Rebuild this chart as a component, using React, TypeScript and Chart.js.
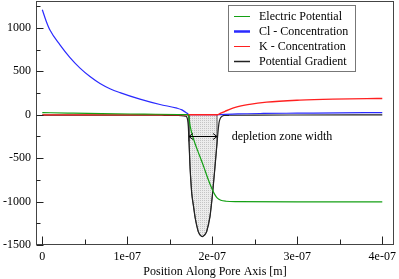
import React, { useEffect, useRef } from "react";
import { Chart, registerables } from "chart.js";

Chart.register(...registerables);

// ---- data (positions in metres) ----
const potentialX = [0, 0.3e-7, 0.7e-7, 1.2e-7, 1.6e-7, 1.7e-7, 1.72e-7, 1.74e-7, 1.77e-7, 1.8e-7, 1.85e-7, 1.9e-7, 1.95e-7, 2.0e-7, 2.03e-7, 2.06e-7, 2.1e-7, 2.16e-7, 2.3e-7, 3.0e-7, 4.0e-7];
const potentialY = [25, 19, 12, 7, 3, 1, -5, -130, -250, -340, -470, -600, -740, -860, -920, -960, -985, -996, -1000, -1003, -1003];

const clX = [0, 0.045e-7, 0.09e-7, 0.208e-7, 0.326e-7, 0.444e-7, 0.561e-7, 0.679e-7, 0.796e-7, 0.914e-7, 1.149e-7, 1.385e-7, 1.585e-7, 1.643e-7, 1.7e-7, 1.726e-7, 2.056e-7, 2.1e-7, 2.3e-7, 2.6e-7, 3.0e-7, 3.5e-7, 4.0e-7];
const clY = [1210, 1080, 975, 805, 658, 537, 440, 360, 300, 255, 180, 118, 76, 56, 20, 0, 0, 2, 10, 15, 18, 22, 25];

const kX = [0, 1.0e-7, 1.726e-7, 2.056e-7, 2.1e-7, 2.15e-7, 2.27e-7, 2.44e-7, 2.64e-7, 3.03e-7, 3.42e-7, 3.82e-7, 4.0e-7];
const kY = [-2, -1, 0, 0, 18, 40, 85, 120, 145, 168, 180, 186, 187];

const gradX = [0, 0.5e-7, 1.0e-7, 1.4e-7, 1.6e-7, 1.66e-7, 1.69e-7, 1.7e-7, 1.71e-7, 1.718e-7, 1.728e-7, 1.738e-7, 1.758e-7, 1.78e-7, 1.8e-7, 1.835e-7, 1.86e-7, 1.882e-7, 1.905e-7, 1.934e-7, 1.973e-7, 2.0e-7, 2.032e-7, 2.045e-7, 2.059e-7, 2.079e-7, 2.095e-7, 2.111e-7, 2.14e-7, 2.2e-7, 2.5e-7, 3.0e-7, 4.0e-7];
const gradY = [-4, -4, -5, -6, -8, -12, -18, -25, -60, -136, -350, -597, -903, -1060, -1195, -1346, -1390, -1403, -1390, -1346, -1173, -942, -597, -450, -289, -93, -40, -21, -8, -6, -4, -3, -2];

const seriesLabels = ["Electric Potential", "Cl - Concentration", "K - Concentration", "Potential Gradient"];

const zoneBounds = [1.726e-7, 2.056e-7];
const arrowValue = -245;
const zoneLabel = "depletion zone width";
const zoneLabelX = 2.228e-7;

const xTickValues = [0, 1e-7, 2e-7, 3e-7, 4e-7];
const xTickLabels = ["0", "1e-07", "2e-07", "3e-07", "4e-07"];
const xMinorTicks = [0.5e-7, 1.5e-7, 2.5e-7, 3.5e-7];
const yTickValues = [-1500, -1000, -500, 0, 500, 1000];
const yTickLabels = ["-1500", "-1000", "-500", "0", "500", "1000"];
const yMinorTicks = [-1250, -750, -250, 250, 750, 1250];
const xAxisTitle = "Position Along Pore Axis [m]";

const FONT = '"Liberation Serif", "Times New Roman", serif';

function pts(xs: number[], ys: number[]) {
  return xs.map((x, i) => ({ x, y: ys[i] }));
}

function interp(xs: number[], ys: number[], x: number) {
  for (let i = 0; i < xs.length - 1; i++) {
    if (x >= xs[i] && x <= xs[i + 1]) {
      const t = (x - xs[i]) / (xs[i + 1] - xs[i]);
      return ys[i] + t * (ys[i + 1] - ys[i]);
    }
  }
  return 0;
}

function zoneFill() {
  const [a, b] = zoneBounds;
  const inner = pts(gradX, gradY).filter((p) => p.x > a && p.x < b);
  return [
    { x: a, y: 0 },
    { x: a, y: interp(gradX, gradY, a) },
    ...inner,
    { x: b, y: interp(gradX, gradY, b) },
    { x: b, y: 0 },
  ];
}

function makePattern(): CanvasPattern | string {
  const c = document.createElement("canvas");
  c.width = 2;
  c.height = 2;
  const g = c.getContext("2d");
  if (!g) return "#dddddd";
  g.fillStyle = "#ececec";
  g.fillRect(0, 0, 2, 2);
  g.fillStyle = "#c4c4c4";
  g.fillRect(0, 0, 1, 1);
  const p = g.createPattern(c, "repeat");
  return p || "#dddddd";
}

const framePlugin = {
  id: "frameTicks",
  afterDatasetsDraw(chart: any) {
    const { ctx, chartArea, scales } = chart;
    const { left, right, top, bottom } = chartArea;
    const xs = scales.x;
    const ys = scales.y;
    ctx.save();
    // annotation: arrow + label
    const ay = Math.round(ys.getPixelForValue(arrowValue)) + 0.5;
    const ax1 = xs.getPixelForValue(zoneBounds[0]);
    const ax2 = xs.getPixelForValue(zoneBounds[1]);
    ctx.strokeStyle = "#000";
    ctx.lineWidth = 1;
    ctx.beginPath();
    ctx.moveTo(ax1, ay);
    ctx.lineTo(ax2, ay);
    ctx.moveTo(ax1 + 4, ay - 3);
    ctx.lineTo(ax1, ay);
    ctx.lineTo(ax1 + 4, ay + 3);
    ctx.moveTo(ax2 - 4, ay - 3);
    ctx.lineTo(ax2, ay);
    ctx.lineTo(ax2 - 4, ay + 3);
    ctx.stroke();
    ctx.fillStyle = "#000";
    ctx.font = "12px " + FONT;
    ctx.textBaseline = "middle";
    ctx.textAlign = "left";
    ctx.fillText(zoneLabel, xs.getPixelForValue(zoneLabelX), ay + 0.5);

    // frame
    ctx.strokeStyle = "#444";
    ctx.lineWidth = 1;
    ctx.strokeRect(left + 0.5, top + 0.5, right - left - 1, bottom - top - 1);
    // ticks (inward)
    ctx.strokeStyle = "#222";
    ctx.beginPath();
    const by = bottom - 0.5;
    xTickValues.forEach((v) => {
      const px = Math.round(xs.getPixelForValue(v)) + 0.5;
      ctx.moveTo(px, by);
      ctx.lineTo(px, by - 8);
    });
    xMinorTicks.forEach((v) => {
      const px = Math.round(xs.getPixelForValue(v)) + 0.5;
      ctx.moveTo(px, by);
      ctx.lineTo(px, by - 5);
    });
    const lx = left + 0.5;
    yTickValues.forEach((v) => {
      const py = Math.round(ys.getPixelForValue(v)) + 0.5;
      ctx.moveTo(lx, py);
      ctx.lineTo(lx + 7, py);
    });
    yMinorTicks.forEach((v) => {
      const py = Math.round(ys.getPixelForValue(v)) + 0.5;
      ctx.moveTo(lx, py);
      ctx.lineTo(lx + 4, py);
    });
    ctx.stroke();
    ctx.restore();
  },
  afterDraw(chart: any) {
    const { ctx } = chart;
    ctx.save();
    const x0 = 228.5, y0 = 5.5, w = 127, h = 66;
    ctx.fillStyle = "#fff";
    ctx.fillRect(x0, y0, w, h);
    ctx.strokeStyle = "#777";
    ctx.lineWidth = 1;
    ctx.strokeRect(x0, y0, w, h);
    const rows = [16, 31, 46, 61];
    const entries = chart.data.datasets.filter((d: any) => d.label);
    entries.forEach((ds: any, i: number) => {
      const y = rows[i] + 0.5;
      ctx.strokeStyle = ds.borderColor;
      ctx.lineWidth = ds.legendWidth || 1;
      ctx.beginPath();
      ctx.moveTo(234, y);
      ctx.lineTo(250, y);
      ctx.stroke();
      ctx.fillStyle = "#000";
      ctx.font = "12px " + FONT;
      ctx.textBaseline = "middle";
      ctx.textAlign = "left";
      ctx.fillText(ds.label, 259, y);
    });
    ctx.restore();
  },
};

export default function App() {
  const ref = useRef<HTMLCanvasElement>(null);
  useEffect(() => {
    document.body.style.margin = "0";
    const canvas = ref.current;
    if (!canvas) return;
    const common = { pointRadius: 0, borderWidth: 1.2, cubicInterpolationMode: "monotone", fill: false };
    const chart = new Chart(canvas, {
      type: "line",
      data: {
        datasets: [
          { ...common, label: seriesLabels[0], data: pts(potentialX, potentialY), borderColor: "#14a014", legendWidth: 1, order: 0 } as any,
          { ...common, label: seriesLabels[1], data: pts(clX, clY), borderColor: "#2a2aff", legendWidth: 2.5, order: 2 } as any,
          { ...common, label: seriesLabels[2], data: pts(kX, kY), borderColor: "#ff2020", borderWidth: 1.4, legendWidth: 1, order: 1 } as any,
          { ...common, label: seriesLabels[3], data: pts(gradX, gradY), borderColor: "#222", legendWidth: 1.5, order: 3 } as any,
          { label: "", data: zoneFill(), borderColor: "#555", borderWidth: 1, backgroundColor: makePattern(), fill: "origin", pointRadius: 0, tension: 0, order: 4 } as any,
        ],
      },
      options: {
        animation: false,
        responsive: false,
        devicePixelRatio: 1,
        parsing: false as any,
        layout: { padding: { top: 1, right: 5, left: 0, bottom: 0 } },
        plugins: { legend: { display: false }, tooltip: { enabled: false } },
        scales: {
          x: {
            type: "linear",
            min: -0.074e-7,
            max: 4.138e-7,
            grid: { display: false, drawTicks: false },
            border: { display: false },
            afterBuildTicks: (s: any) => {
              s.ticks = xTickValues.map((v) => ({ value: v }));
            },
            afterFit: (s: any) => {
              s.height = 34;
              s.paddingLeft = 0;
              s.paddingRight = 0;
            },
            ticks: {
              autoSkip: false,
              maxRotation: 0,
              padding: 5,
              color: "#000",
              font: { family: FONT, size: 12 },
              callback: (v: any) => {
                const i = xTickValues.findIndex((t) => Math.abs(t - v) < 1e-12);
                return i >= 0 ? xTickLabels[i] : "";
              },
            },
            title: {
              display: true,
              text: xAxisTitle,
              color: "#000",
              font: { family: FONT, size: 12 },
              padding: { top: 0, bottom: 0 },
            },
          },
          y: {
            type: "linear",
            min: -1500,
            max: 1310,
            grid: { display: false, drawTicks: false },
            border: { display: false },
            afterBuildTicks: (s: any) => {
              s.ticks = yTickValues.map((v) => ({ value: v }));
            },
            afterFit: (s: any) => {
              s.width = 36;
              s.paddingTop = 0;
              s.paddingBottom = 0;
            },
            ticks: {
              autoSkip: false,
              padding: 5,
              color: "#000",
              font: { family: FONT, size: 12 },
              callback: (v: any) => {
                const i = yTickValues.indexOf(v);
                return i >= 0 ? yTickLabels[i] : "";
              },
            },
          },
        },
      } as any,
      plugins: [framePlugin],
    });
    return () => chart.destroy();
  }, []);
  return (
    <div style={{ width: 399, height: 279 }}>
      <canvas ref={ref} width={399} height={279} />
    </div>
  );
}
